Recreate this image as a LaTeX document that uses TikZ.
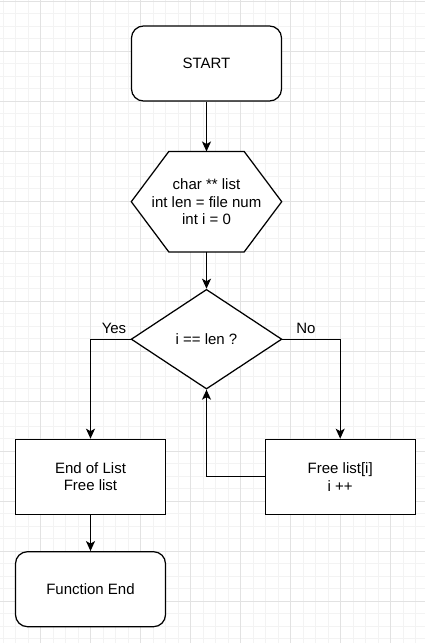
\documentclass[tikz,border=0pt]{standalone}
\usepackage{fontspec}
\setmainfont{Liberation Sans}
\usetikzlibrary{arrows.meta,shapes.geometric,backgrounds}
\definecolor{gridminor}{HTML}{F3F3F3}
\definecolor{gridmajor}{HTML}{E2E2E2}
\begin{document}
\begin{tikzpicture}[x=1pt,y=-1pt,
  font=\fontsize{15}{17.6}\selectfont,
  box/.style={draw, line width=1.25pt, fill=white, minimum width=150pt, minimum height=75pt, align=center, inner sep=0pt},
  term/.style={box, rounded corners=12pt},
  decision/.style={draw, diamond, line width=1.25pt, fill=white, minimum width=150.7pt, minimum height=99.7pt, inner sep=0pt, align=center},
  flow/.style={line width=1.25pt, -{Stealth[length=10pt,width=9pt,inset=2.5pt]}},
  plain/.style={line width=1.25pt}]
\useasboundingbox (0,0) rectangle (425,643);
% nodes
\node[term] (start) at (206.5,63.5) {START};
\node[align=center, minimum width=150pt, minimum height=100pt, inner sep=0pt] (init) at (206.5,201.7) {char ** list\\int len = file num\\int i = 0};
\node[decision] (dec) at (206.5,339.2) {i == len ?};
\node[box] (endl) at (90.5,476.8) {End of List\\Free list};
\node[box] (freel) at (340.2,476.8) {Free list[i]\\i ++};
\node[term] (fend) at (90.5,589.2) {Function End};
\node (yes) at (114,328) {Yes};
\node (no) at (306,328) {No};
\begin{scope}[on background layer]
  \foreach \x in {3.2,15.7,...,425} \draw[gridminor, line width=0.8pt] (\x,0) -- (\x,643);
  \foreach \y in {1.2,13.7,...,643} \draw[gridminor, line width=0.8pt] (0,\y) -- (425,\y);
  \foreach \x in {40.7,90.7,...,425} \draw[gridmajor, line width=0.8pt] (\x,0) -- (\x,643);
  \foreach \y in {1.2,51.2,...,643} \draw[gridmajor, line width=0.8pt] (0,\y) -- (425,\y);
  \filldraw[fill=white, line width=1.25pt, line join=miter]
    ([xshift=37.5pt]init.north west) -- ([xshift=-37.5pt]init.north east) -- (init.east)
    -- ([xshift=-37.5pt]init.south east) -- ([xshift=37.5pt]init.south west) -- (init.west) -- cycle;
\end{scope}
% connectors
\draw[flow] (start) -- (init);
\draw[flow] (init) -- (dec);
\draw[flow] (dec.west) -| (endl.north);
\draw[flow] (dec.east) -| (freel.north);
\draw[flow] (freel.west) -| (dec.south);
\draw[flow] (endl) -- (fend);
\end{tikzpicture}
\end{document}
